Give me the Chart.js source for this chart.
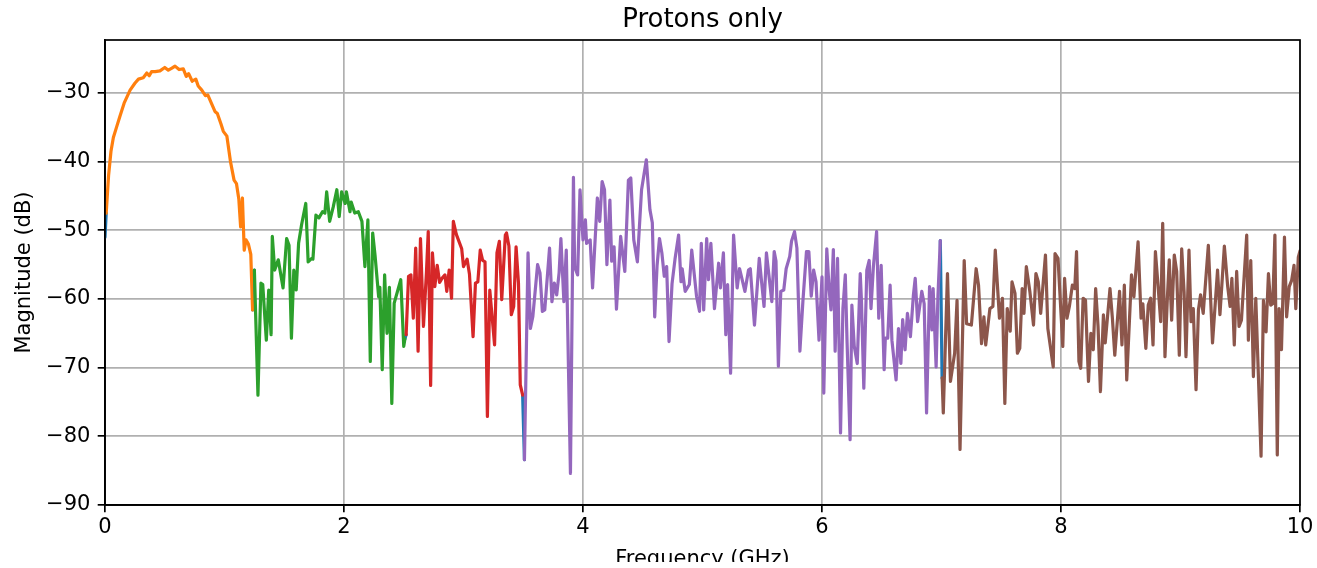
<!DOCTYPE html>
<html>
<head>
<meta charset="utf-8">
<script src="https://cdn.jsdelivr.net/npm/chart.js@4.4.1/dist/chart.umd.min.js"></script>
<style>
  html, body { margin: 0; padding: 0; background: #ffffff; }
  #c { display: block; }
</style>
</head>
<body>
<canvas id="c" width="1317" height="568"></canvas>
<script>
// ---------------- DATA ----------------
const chartTitle = 'Protons only';
const xLabel = 'Frequency (GHz)';
const yLabel = 'Magnitude (dB)';
const xTicks = [0, 2, 4, 6, 8, 10];
const yTicks = [-90, -80, -70, -60, -50, -40, -30];

// full-spectrum start point (only visible at band edges)
const baseFreq = [0.0];
const baseMag = [-51.0];

const orangeFreq = [0.01, 0.03, 0.05, 0.07, 0.10, 0.125, 0.16, 0.21, 0.25, 0.28, 0.32, 0.35, 0.37, 0.39, 0.42, 0.46, 0.50, 0.53, 0.56, 0.586, 0.62, 0.655, 0.68, 0.70, 0.73, 0.76, 0.78, 0.81, 0.84, 0.86, 0.89, 0.92, 0.94, 0.97, 0.99, 1.02, 1.05, 1.08, 1.10, 1.12, 1.135, 1.15, 1.165, 1.18, 1.20, 1.22, 1.235];
const orangeMag = [-47.5, -42.0, -38.5, -36.5, -34.8, -33.4, -31.5, -29.6, -28.6, -28.0, -27.8, -27.1, -27.5, -26.9, -26.9, -26.8, -26.3, -26.7, -26.4, -26.1, -26.6, -26.5, -27.6, -27.2, -28.3, -28.0, -29.0, -29.6, -30.4, -30.3, -31.5, -32.7, -33.0, -34.5, -35.6, -36.3, -40.0, -42.7, -43.2, -45.5, -49.5, -45.3, -52.9, -51.4, -52.0, -53.5, -61.6];

const greenFreq = [1.25, 1.28, 1.305, 1.32, 1.35, 1.37, 1.39, 1.40, 1.42, 1.45, 1.49, 1.52, 1.54, 1.56, 1.58, 1.60, 1.62, 1.645, 1.68, 1.70, 1.73, 1.74, 1.765, 1.79, 1.82, 1.84, 1.855, 1.88, 1.91, 1.94, 1.96, 1.98, 2.01, 2.02, 2.05, 2.06, 2.09, 2.12, 2.15, 2.175, 2.20, 2.22, 2.24, 2.26, 2.29, 2.30, 2.32, 2.34, 2.36, 2.38, 2.40, 2.42, 2.475, 2.50, 2.51];
const greenMag = [-55.8, -74.0, -57.7, -57.9, -66.0, -58.7, -65.2, -50.9, -55.8, -54.3, -58.4, -51.2, -52.2, -65.7, -55.8, -58.7, -51.9, -49.2, -46.1, -54.6, -54.1, -54.2, -47.8, -48.2, -47.3, -47.5, -44.4, -48.7, -46.6, -44.1, -48.0, -44.4, -46.1, -44.4, -47.3, -45.9, -47.5, -47.3, -48.7, -55.3, -48.5, -69.1, -50.4, -53.7, -59.7, -58.3, -70.3, -56.5, -65.0, -58.3, -75.2, -60.6, -57.2, -66.9, -65.8];

const redFreq = [2.52, 2.54, 2.56, 2.58, 2.60, 2.62, 2.64, 2.665, 2.69, 2.705, 2.725, 2.74, 2.76, 2.78, 2.80, 2.82, 2.845, 2.86, 2.88, 2.90, 2.915, 2.94, 2.985, 3.00, 3.03, 3.05, 3.08, 3.10, 3.12, 3.14, 3.16, 3.18, 3.20, 3.22, 3.26, 3.28, 3.30, 3.32, 3.35, 3.36, 3.38, 3.40, 3.42, 3.44, 3.46, 3.475, 3.495];
const redMag = [-65.2, -56.7, -56.5, -62.8, -52.6, -67.6, -51.2, -64.0, -56.1, -50.2, -72.6, -53.3, -58.2, -55.1, -57.6, -57.0, -56.5, -58.9, -55.8, -59.9, -48.7, -50.6, -52.7, -55.3, -54.2, -56.4, -65.5, -57.7, -57.5, -52.9, -54.4, -54.6, -77.1, -58.7, -66.7, -53.3, -51.6, -60.1, -50.7, -50.4, -52.3, -62.3, -61.1, -52.4, -57.7, -72.5, -74.0];

const purpleFreq = [3.51, 3.54, 3.56, 3.58, 3.62, 3.64, 3.66, 3.68, 3.72, 3.74, 3.76, 3.78, 3.80, 3.815, 3.84, 3.86, 3.895, 3.92, 3.93, 3.955, 3.975, 4.00, 4.02, 4.03, 4.06, 4.08, 4.12, 4.14, 4.16, 4.18, 4.20, 4.225, 4.24, 4.26, 4.28, 4.315, 4.35, 4.38, 4.40, 4.425, 4.455, 4.49, 4.53, 4.56, 4.58, 4.60, 4.62, 4.64, 4.66, 4.68, 4.70, 4.72, 4.745, 4.77, 4.80, 4.82, 4.83, 4.855, 4.89, 4.91, 4.95, 4.975, 4.99, 5.01, 5.035, 5.05, 5.07, 5.10, 5.135, 5.15, 5.175, 5.195, 5.21, 5.235, 5.26, 5.29, 5.31, 5.355, 5.385, 5.40, 5.435, 5.475, 5.515, 5.535, 5.56, 5.58, 5.60, 5.615, 5.635, 5.655, 5.68, 5.70, 5.73, 5.745, 5.77, 5.79, 5.815, 5.84, 5.87, 5.89, 5.91, 5.93, 5.95, 5.975, 6.00, 6.015, 6.04, 6.06, 6.075, 6.095, 6.11, 6.13, 6.155, 6.175, 6.195, 6.21, 6.235, 6.25, 6.27, 6.295, 6.32, 6.33, 6.35, 6.375, 6.395, 6.41, 6.43, 6.457, 6.475, 6.495, 6.52, 6.53, 6.55, 6.57, 6.585, 6.62, 6.64, 6.66, 6.675, 6.695, 6.715, 6.74, 6.765, 6.78, 6.80, 6.835, 6.855, 6.875, 6.90, 6.92, 6.93, 6.955, 6.97, 6.99];
const purpleMag = [-83.4, -53.3, -64.3, -62.6, -55.0, -56.2, -61.8, -61.6, -52.6, -60.4, -57.7, -59.4, -56.2, -51.2, -60.4, -52.9, -85.4, -42.3, -55.3, -56.5, -44.1, -51.4, -48.5, -51.9, -51.4, -58.4, -45.3, -48.7, -42.9, -44.1, -55.0, -45.6, -54.5, -52.4, -61.5, -50.9, -56.0, -42.7, -42.4, -51.4, -54.6, -44.1, -39.75, -47.0, -48.9, -62.6, -55.1, -51.2, -53.3, -56.7, -55.3, -66.2, -57.8, -54.2, -50.7, -57.5, -55.6, -58.9, -57.9, -52.9, -59.6, -61.8, -51.9, -61.6, -51.2, -57.2, -51.9, -61.4, -54.8, -58.4, -53.3, -65.2, -57.9, -70.8, -50.7, -58.4, -55.6, -58.9, -55.8, -55.6, -63.8, -54.1, -61.1, -53.3, -57.2, -60.4, -53.1, -54.5, -69.8, -58.9, -58.7, -55.6, -53.8, -51.6, -50.2, -52.6, -67.6, -60.4, -53.1, -53.1, -59.6, -55.8, -57.5, -66.0, -56.8, -73.7, -52.7, -58.7, -61.6, -52.8, -67.6, -54.1, -79.5, -61.4, -56.5, -66.4, -80.5, -60.9, -66.9, -69.4, -56.3, -60.2, -73.0, -55.8, -54.4, -61.4, -55.3, -50.2, -62.8, -55.1, -70.3, -65.7, -65.7, -58.0, -66.0, -71.8, -64.3, -69.4, -63.0, -67.4, -62.1, -65.5, -59.4, -57.0, -63.3, -58.9, -60.7, -76.6, -58.2, -64.5, -58.5, -69.9, -59.7, -51.5];

const brownFreq = [7.005, 7.015, 7.05, 7.075, 7.11, 7.13, 7.155, 7.19, 7.21, 7.25, 7.29, 7.31, 7.335, 7.355, 7.37, 7.405, 7.43, 7.45, 7.485, 7.51, 7.53, 7.55, 7.575, 7.59, 7.615, 7.635, 7.655, 7.675, 7.69, 7.71, 7.74, 7.77, 7.79, 7.81, 7.83, 7.87, 7.89, 7.935, 7.95, 7.975, 8.015, 8.03, 8.05, 8.07, 8.095, 8.115, 8.13, 8.15, 8.165, 8.185, 8.205, 8.23, 8.25, 8.27, 8.29, 8.31, 8.33, 8.355, 8.37, 8.41, 8.43, 8.45, 8.49, 8.51, 8.53, 8.55, 8.59, 8.61, 8.645, 8.67, 8.685, 8.71, 8.73, 8.75, 8.77, 8.79, 8.815, 8.834, 8.851, 8.87, 8.89, 8.906, 8.926, 8.948, 8.968, 8.99, 9.01, 9.03, 9.046, 9.071, 9.088, 9.107, 9.13, 9.15, 9.168, 9.19, 9.233, 9.268, 9.31, 9.33, 9.367, 9.395, 9.415, 9.43, 9.45, 9.47, 9.49, 9.51, 9.554, 9.568, 9.588, 9.61, 9.63, 9.652, 9.674, 9.694, 9.716, 9.736, 9.755, 9.772, 9.79, 9.81, 9.825, 9.845, 9.87, 9.888, 9.91, 9.93, 9.95, 9.965, 9.986, 10.0];
const brownMag = [-71.5, -76.6, -56.3, -72.0, -67.9, -60.2, -81.9, -54.4, -63.6, -63.8, -55.6, -58.0, -66.5, -62.6, -66.7, -61.4, -61.1, -52.9, -62.8, -59.9, -75.2, -61.4, -64.7, -57.5, -59.2, -67.9, -67.2, -58.5, -62.1, -55.3, -59.0, -63.8, -56.3, -57.5, -62.1, -53.6, -64.3, -69.9, -53.4, -54.1, -66.9, -57.0, -62.8, -61.1, -58.0, -58.5, -53.1, -69.1, -70.1, -59.9, -60.2, -72.0, -65.0, -67.4, -58.5, -64.0, -73.5, -62.3, -66.4, -58.5, -62.8, -68.2, -58.9, -66.7, -58.0, -71.8, -56.5, -59.7, -51.7, -62.8, -60.7, -67.2, -60.9, -59.9, -66.7, -53.1, -58.7, -63.3, -49.0, -68.4, -59.9, -54.3, -63.1, -53.6, -56.0, -68.2, -52.7, -59.0, -68.4, -52.9, -63.3, -61.4, -73.2, -61.6, -59.4, -62.1, -52.2, -66.4, -55.8, -62.3, -52.3, -58.2, -61.1, -57.0, -66.7, -56.0, -64.0, -63.1, -50.7, -66.0, -54.4, -71.3, -59.9, -71.3, -82.9, -60.2, -64.8, -56.3, -60.9, -60.7, -50.7, -82.7, -61.4, -67.4, -51.0, -62.6, -58.2, -57.3, -55.1, -61.4, -53.9, -53.0];

// ---------------- BUILD ----------------
const pts = (fx, my) => fx.map((f, i) => ({ x: f, y: my[i] }));
const bands = [
  { f: orangeFreq, m: orangeMag, color: '#ff7f0e' },
  { f: greenFreq,  m: greenMag,  color: '#2ca02c' },
  { f: redFreq,    m: redMag,    color: '#d62728' },
  { f: purpleFreq, m: purpleMag, color: '#9467bd' },
  { f: brownFreq,  m: brownMag,  color: '#8c564b' }
];
// blue full-spectrum line only shows in the joins between bands
const bluePts = [{ x: baseFreq[0], y: baseMag[0] }, { x: orangeFreq[0], y: orangeMag[0] }];
for (let i = 0; i < bands.length - 1; i++) {
  const a = bands[i], b = bands[i + 1];
  const lastF = a.f[a.f.length - 1], lastM = a.m[a.m.length - 1];
  bluePts.push({ x: lastF, y: null });           // break before this join
  bluePts.push({ x: lastF, y: lastM });
  bluePts.push({ x: b.f[0], y: b.m[0] });
}

const LW = 3.2;
const lineBase = { borderWidth: LW, pointRadius: 0, tension: 0, fill: false,
  borderJoinStyle: 'round', borderCapStyle: 'round', spanGaps: false };

const datasets = [
  Object.assign({ data: bluePts, borderColor: '#1f77b4', order: 10 }, lineBase)
];
bands.forEach((b, i) => {
  datasets.push(Object.assign({ data: pts(b.f, b.m), borderColor: b.color, order: 9 - i }, lineBase));
});

const FONT = "'DejaVu Sans', 'Liberation Sans', sans-serif";
const minusFmt = v => String(v).replace('-', '\u2212');

const frame = {
  id: 'frame',
  afterDatasetsDraw(chart) {
    const { ctx, chartArea: a } = chart;
    ctx.save();
    ctx.strokeStyle = '#000';
    ctx.lineWidth = 1.7;
    ctx.strokeRect(a.left, a.top, a.right - a.left, a.bottom - a.top);
    ctx.restore();
  },
  afterDraw(chart) {
    // the reference figure is cropped just below the x-axis label
    const { ctx, width, height } = chart;
    ctx.save();
    ctx.fillStyle = '#ffffff';
    ctx.fillRect(0, height - 6, width, 6);
    ctx.restore();
  }
};

new Chart(document.getElementById('c'), {
  type: 'line',
  data: { datasets },
  plugins: [frame],
  options: {
    responsive: false,
    devicePixelRatio: 1,
    animation: false,
    layout: { padding: { left: 0, right: 17, top: 0, bottom: 0 } },
    plugins: {
      legend: { display: false },
      tooltip: { enabled: false },
      title: {
        display: true, text: chartTitle, fullSize: false, color: '#000',
        font: { family: FONT, size: 26, weight: 'normal' },
        padding: { top: 4.5, bottom: 4.3 }
      }
    },
    scales: {
      x: {
        type: 'linear', min: 0, max: 10,
        afterBuildTicks: s => { s.ticks = xTicks.map(v => ({ value: v })); },
        afterFit: s => { s.height = 63; },
        grid: { color: '#b0b0b0', lineWidth: 1.7, tickColor: '#000', tickLength: 7.3, tickWidth: 1.7, drawTicks: true },
        border: { display: true, color: '#000', width: 1.7 },
        ticks: { color: '#000', font: { family: FONT, size: 21 }, padding: 2.6, maxRotation: 0, autoSkip: false,
          callback: v => minusFmt(v) },
        title: { display: true, text: xLabel, color: '#000', font: { family: FONT, size: 21 }, padding: { top: 0, bottom: -4.3 } }
      },
      y: {
        type: 'linear', min: -90, max: -22.3,
        afterBuildTicks: s => { s.ticks = yTicks.map(v => ({ value: v })); },
        afterFit: s => { s.width = 105; },
        grid: { color: '#b0b0b0', lineWidth: 1.7, tickColor: '#000', tickLength: 7.3, tickWidth: 1.7, drawTicks: true },
        border: { display: true, color: '#000', width: 1.7 },
        ticks: { color: '#000', font: { family: FONT, size: 21 }, padding: 7.3, autoSkip: false,
          callback: v => minusFmt(v) },
        title: { display: true, text: yLabel, color: '#000', font: { family: FONT, size: 21 }, padding: { top: 12, bottom: 0 } }
      }
    }
  }
});
</script>
</body>
</html>
